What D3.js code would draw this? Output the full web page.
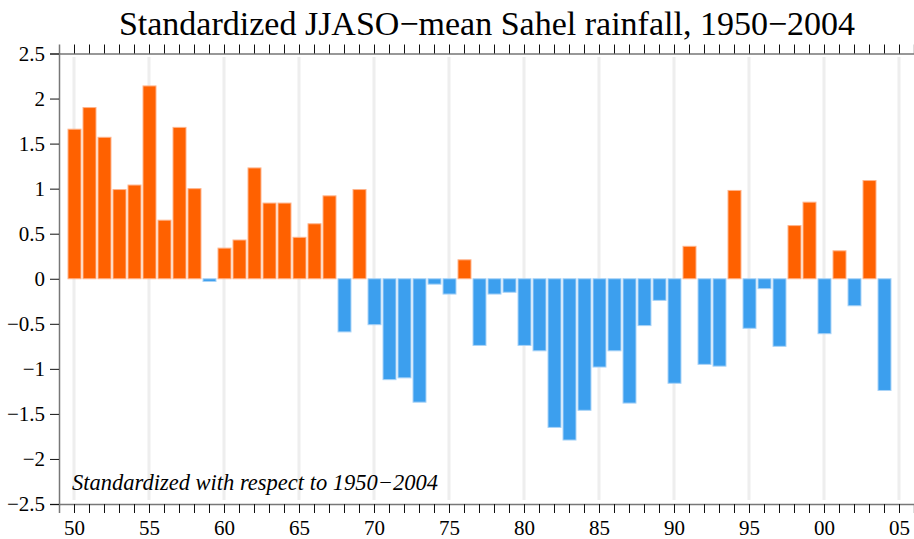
<!DOCTYPE html>
<html>
<head>
<meta charset="utf-8">
<script src="https://cdn.jsdelivr.net/npm/d3@7"></script>
<style>
  body { margin: 0; background: #fff; }
</style>
</head>
<body>
<script>
// data: standardized JJASO Sahel rainfall, 1950-2004
const years = d3.range(1950, 2005);
const rain = [
  1.66, 1.90, 1.57, 0.99, 1.04, 2.14, 0.65, 1.68, 1.00, -0.03,
  0.34, 0.43, 1.23, 0.84, 0.84, 0.46, 0.61, 0.92, -0.59, 0.99,
  -0.51, -1.12, -1.10, -1.37, -0.06, -0.17, 0.21, -0.74, -0.17, -0.15,
  -0.74, -0.80, -1.65, -1.79, -1.46, -0.98, -0.80, -1.38, -0.52, -0.24,
  -1.16, 0.36, -0.95, -0.97, 0.98, -0.55, -0.11, -0.75, 0.59, 0.85,
  -0.61, 0.31, -0.30, 1.09, -1.24
];
const yTicks = [2.5, 2, 1.5, 1, 0.5, 0, -0.5, -1, -1.5, -2, -2.5];
const gridYears = [1950, 1955, 1960, 1965, 1970, 1975, 1980, 1985, 1990, 1995, 2000, 2005];

const w = 914, h = 539;
const serif = "'Liberation Serif', 'Times New Roman', serif";
const svg = d3.select("body").append("svg").attr("width", w).attr("height", h);

const x = d3.scaleLinear().domain([1949, 2006]).range([59, 914]);
const y = d3.scaleLinear().domain([-2.5, 2.5]).range([504, 53.5]);
const barW = 13;

// title
svg.append("text")
  .attr("x", 487).attr("y", 35)
  .attr("text-anchor", "middle")
  .attr("font-family", serif)
  .attr("font-size", 34)
  .text("Standardized JJASO\u2212mean Sahel rainfall, 1950\u22122004");

// light vertical grid lines every 5 years
svg.selectAll(".grid")
  .data(gridYears)
  .enter().append("line")
  .attr("x1", d => x(d)).attr("x2", d => x(d))
  .attr("y1", 57).attr("y2", 500)
  .attr("stroke", "#eeeeee")
  .attr("stroke-width", 3);

// bars
svg.selectAll(".bar")
  .data(years.map((d, i) => ({ year: d, v: rain[i] })))
  .enter().append("rect")
  .attr("x", d => x(d.year) - barW / 2 + 0.5)
  .attr("y", d => y(Math.max(0, d.v)))
  .attr("width", barW)
  .attr("height", d => Math.abs(y(d.v) - y(0)))
  .attr("fill", d => d.v >= 0 ? "#ff6100" : "#3c9fee")
  .attr("stroke", d => d.v >= 0 ? "#ffb38a" : "#a9d3f7")
  .attr("stroke-width", 1);

// axes
const yearTicks = d3.range(1950, 2006);
const fmtYear = d => (d % 5 === 0 ? String(d % 100).padStart(2, "0") : "");

const gBottom = svg.append("g")
  .attr("transform", `translate(0,${y(-2.5)})`)
  .call(d3.axisBottom(x).tickValues(yearTicks).tickFormat(fmtYear).tickSize(9).tickPadding(7));

const gTop = svg.append("g")
  .attr("transform", `translate(0,${y(2.5)})`)
  .call(d3.axisTop(x).tickValues(yearTicks).tickFormat("").tickSize(9));

const gLeft = svg.append("g")
  .attr("transform", `translate(${x(1949)},0)`)
  .call(d3.axisLeft(y).tickValues(yTicks).tickFormat(d => d3.format("")(d).replace("-", "\u2212")).tickSize(9).tickPadding(5));

[gBottom, gTop, gLeft].forEach(g => {
  g.attr("font-family", serif).attr("font-size", 21);
  g.select(".domain").attr("stroke", "#777").attr("stroke-width", 1.5);
  g.selectAll(".tick line").attr("stroke", "#111");
  g.selectAll(".tick text").attr("fill", "#000");
});

// annotation
svg.append("text")
  .attr("x", 72).attr("y", 490)
  .attr("font-family", serif)
  .attr("font-size", 22.5)
  .attr("font-style", "italic")
  .text("Standardized with respect to 1950\u22122004");
</script>
</body>
</html>
